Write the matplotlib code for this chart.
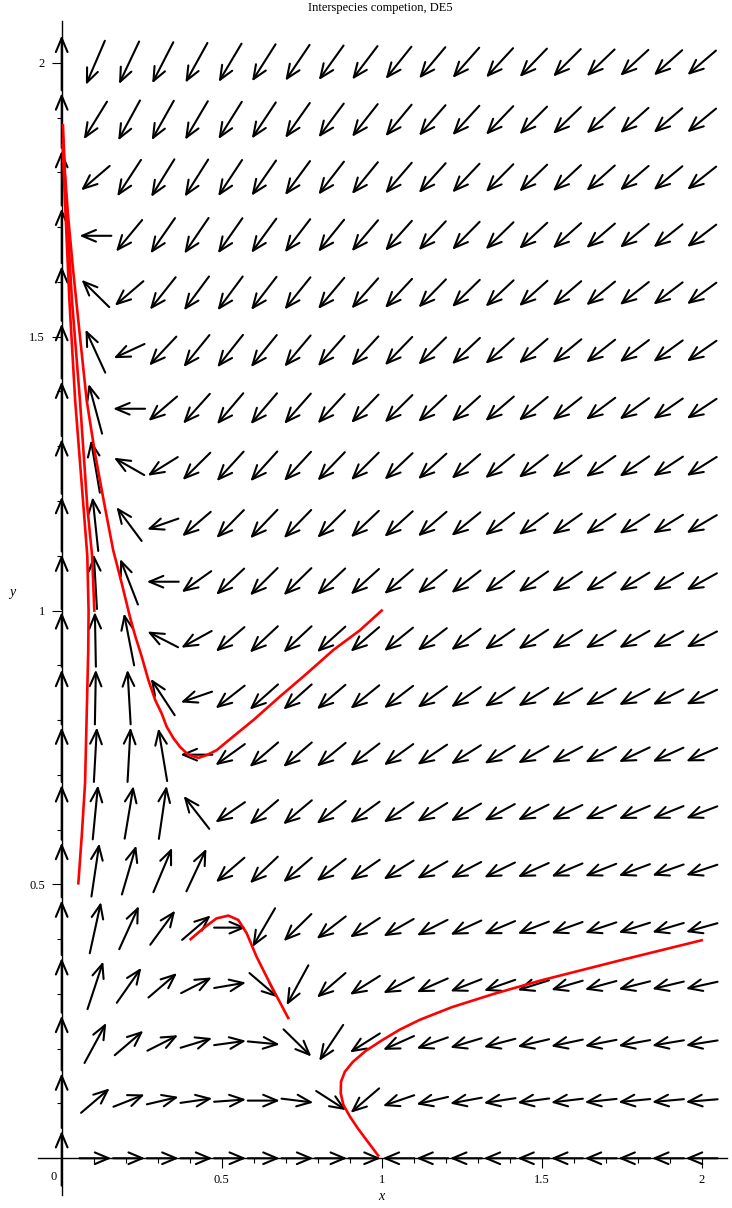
import numpy as np
import matplotlib
matplotlib.use("Agg")
import matplotlib.pyplot as plt

# competition model  x' = x(a - b x - c y),  y' = y(d - e y - f x)
coef_x = [1.0, 1.0, 1.0]
coef_y = [0.5, 0.25, 0.75]

# direction field grid (20 x 20 over [0,2]x[0,2])
grid_x = np.linspace(0, 2, 20)
grid_y = np.linspace(0, 2, 20)
arrow_len = 0.1

# red solution curves
traj1_x = [1.0, 0.932, 0.849, 0.766, 0.682, 0.599, 0.536, 0.484, 0.453, 0.427, 0.395, 0.370,
           0.349, 0.328, 0.3125, 0.292, 0.271, 0.250, 0.229, 0.213, 0.1875, 0.161, 0.135,
           0.104, 0.078, 0.055, 0.036, 0.020, 0.010, 0.004]
traj1_y = [1.0, 0.964, 0.928, 0.885, 0.843, 0.800, 0.770, 0.745, 0.736, 0.731, 0.737, 0.751,
           0.767, 0.788, 0.812, 0.837, 0.873, 0.916, 0.955, 0.989, 1.050, 1.110, 1.189,
           1.287, 1.384, 1.512, 1.620, 1.720, 1.800, 1.886]
traj2_x = [0.052, 0.0625, 0.073, 0.078, 0.083, 0.084, 0.080, 0.068, 0.042, 0.024, 0.010, 0.003]
traj2_y = [0.502, 0.587, 0.685, 0.806, 0.928, 1.000, 1.100, 1.190, 1.384, 1.567, 1.750, 1.850]
traj3_x = [0.102, 0.095, 0.080, 0.057, 0.032, 0.014, 0.004]
traj3_y = [1.000, 1.100, 1.190, 1.384, 1.567, 1.750, 1.860]
traj4_x = [0.403, 0.443, 0.484, 0.521, 0.552, 0.578, 0.609, 0.651, 0.708]
traj4_y = [0.400, 0.420, 0.438, 0.443, 0.435, 0.411, 0.368, 0.319, 0.256]
traj5_x = [2.0, 1.75, 1.5, 1.35, 1.22, 1.12, 1.057, 1.0, 0.95, 0.91, 0.885, 0.873, 0.872,
           0.88, 0.901, 0.925, 0.953, 0.989]
traj5_y = [0.398, 0.362, 0.325, 0.300, 0.276, 0.253, 0.235, 0.215, 0.196, 0.176, 0.158, 0.140,
           0.119, 0.098, 0.076, 0.055, 0.033, 0.005]

serif = "Liberation Serif"

fig = plt.figure(figsize=(7.32, 12.08), dpi=100)
ax = fig.add_axes([0.0515, 0.0108, 0.942, 0.9721])
ax.set_xlim(-0.075, 2.08)
ax.set_ylim(-0.067, 2.077)

for sp in ["top", "right"]:
    ax.spines[sp].set_visible(False)
ax.spines["left"].set_position(("data", 0))
ax.spines["bottom"].set_position(("data", 0))
ax.spines["left"].set_linewidth(1.0)
ax.spines["bottom"].set_linewidth(1.0)

ax.set_xticks([0.5, 1, 1.5, 2])
ax.set_xticklabels(["0.5", "1", "1.5", "2"])
ax.set_yticks([0.5, 1, 1.5, 2])
ax.set_yticklabels(["0.5", "1", "1.5", "2"])
ax.set_xticks(np.arange(0.1, 2.05, 0.1), minor=True)
ax.set_yticks(np.arange(0.1, 2.05, 0.1), minor=True)
ax.tick_params(which="major", direction="out", length=7, width=0.8, labelsize=9, pad=4)
ax.tick_params(which="minor", direction="out", length=3.5, width=0.8)
ax.tick_params(axis="y", pad=5)
for lab in ax.get_xticklabels() + ax.get_yticklabels():
    lab.set_family(serif)

# direction field
for xv in grid_x:
    for yv in grid_y:
        u = xv * (coef_x[0] - coef_x[1] * xv - coef_x[2] * yv)
        v = yv * (coef_y[0] - coef_y[1] * yv - coef_y[2] * xv)
        n = np.hypot(u, v)
        if n == 0:
            u, v = 0.0, 1.0  # maple draws the rest points pointing up
        else:
            u, v = u / n, v / n
        ax.annotate("", xy=(xv + u * arrow_len / 2, yv + v * arrow_len / 2),
                    xytext=(xv - u * arrow_len / 2, yv - v * arrow_len / 2),
                    arrowprops=dict(arrowstyle="->,head_length=1.0,head_width=0.42",
                                    color="black", lw=1.5, shrinkA=0, shrinkB=0),
                    zorder=3)

for tx, ty in [(traj1_x, traj1_y), (traj2_x, traj2_y), (traj3_x, traj3_y),
               (traj4_x, traj4_y), (traj5_x, traj5_y)]:
    ax.plot(tx, ty, color="red", lw=1.9, zorder=4, solid_joinstyle="round")

fig.text(380 / 732, 1 - 8 / 1208, "Interspecies competion, DE5", ha="center", va="center",
         family=serif, fontsize=9)
fig.text(381 / 732, 1 - 1197 / 1208, "x", ha="center", va="center", family=serif,
         style="italic", fontsize=10)
fig.text(12 / 732, 1 - 592 / 1208, "y", ha="center", va="center", family=serif,
         style="italic", fontsize=10)
fig.text(53.5 / 732, 1 - 1177 / 1208, "0", ha="center", va="center", family=serif, fontsize=9)

fig.savefig("out.png", dpi=100)
